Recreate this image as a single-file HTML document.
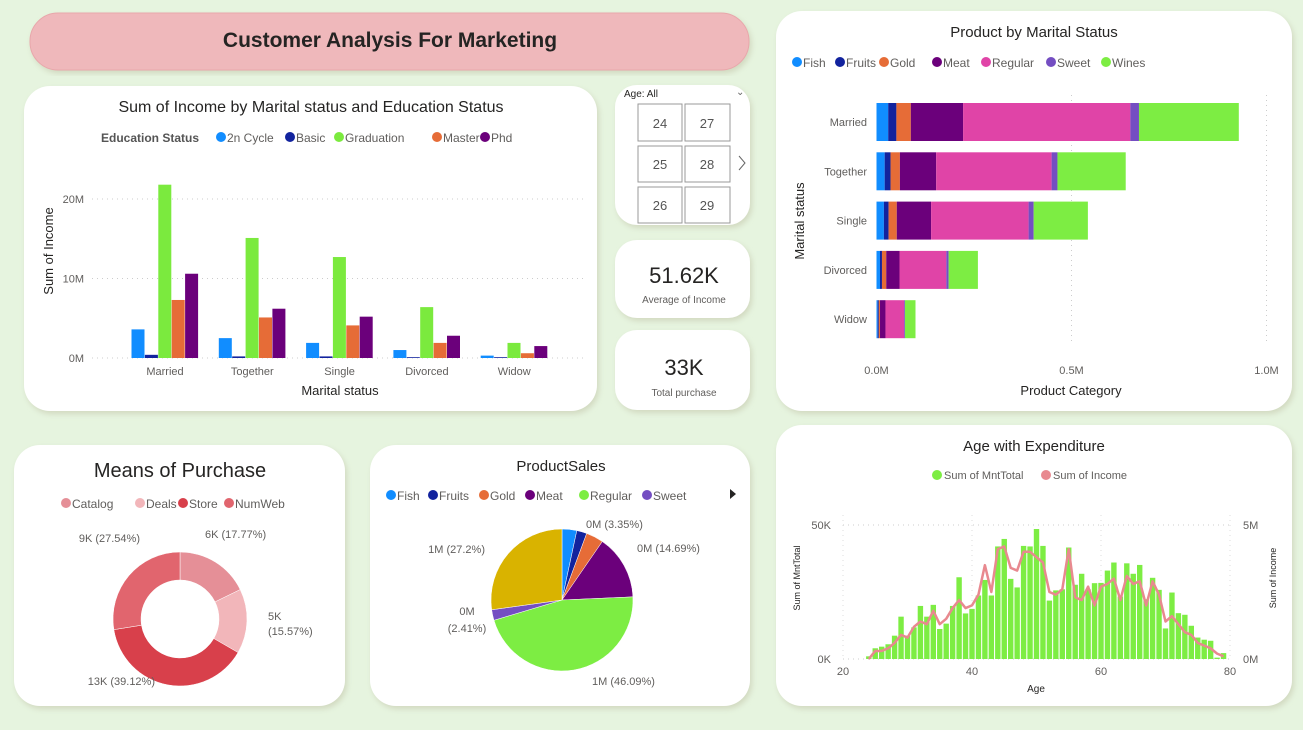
<!DOCTYPE html>
<html><head><meta charset="utf-8">
<style>
html,body{margin:0;padding:0;background:#e6f4df;}
svg{display:block;font-family:"Liberation Sans",sans-serif;}
.t{fill:#252423;}
.ax{fill:#605e5c;font-size:11px;}
</style></head>
<body>
<svg id="s" width="1303" height="730" viewBox="0 0 1303 730">
<defs><filter id="sh" x="-5%" y="-5%" width="110%" height="115%"><feDropShadow dx="2" dy="3" stdDeviation="3" flood-color="#b8b89a" flood-opacity="0.45"/></filter></defs>
<rect width="1303" height="730" fill="#e6f4df"/>
<rect x="30" y="13" width="719" height="57" rx="28" fill="#efb8bb" stroke="#e8a7ab" filter="url(#sh)"/>
<text x="390" y="47" text-anchor="middle" font-size="21" font-weight="bold" class="t">Customer Analysis For Marketing</text>
<rect x="24" y="86" width="573" height="325" rx="26" fill="#fff" filter="url(#sh)"/>
<rect x="615" y="85" width="135" height="140" rx="22" fill="#fff" filter="url(#sh)"/>
<rect x="615" y="240" width="135" height="78" rx="22" fill="#fff" filter="url(#sh)"/>
<rect x="615" y="330" width="135" height="80" rx="22" fill="#fff" filter="url(#sh)"/>
<rect x="776" y="11" width="516" height="400" rx="26" fill="#fff" filter="url(#sh)"/>
<rect x="14" y="445" width="331" height="261" rx="26" fill="#fff" filter="url(#sh)"/>
<rect x="370" y="445" width="380" height="261" rx="26" fill="#fff" filter="url(#sh)"/>
<rect x="776" y="425" width="516" height="281" rx="26" fill="#fff" filter="url(#sh)"/>

<text x="624" y="97" font-size="10" class="t">Age: All</text>
<text x="736" y="95" font-size="10" fill="#666">⌄</text>
<g font-size="13" fill="#555" text-anchor="middle">
<rect x="638" y="104" width="44" height="37" fill="#fff" stroke="#999"/><text x="660" y="128">24</text>
<rect x="685" y="104" width="45" height="37" fill="#fff" stroke="#999"/><text x="707" y="128">27</text>
<rect x="638" y="146" width="44" height="36" fill="#fff" stroke="#999"/><text x="660" y="169">25</text>
<rect x="685" y="146" width="45" height="36" fill="#fff" stroke="#999"/><text x="707" y="169">28</text>
<rect x="638" y="187" width="44" height="36" fill="#fff" stroke="#999"/><text x="660" y="210">26</text>
<rect x="685" y="187" width="45" height="36" fill="#fff" stroke="#999"/><text x="707" y="210">29</text>
</g>
<path d="M739 156 L745 163 L739 170" fill="none" stroke="#666"/>
<text x="684" y="283" text-anchor="middle" font-size="22" class="t">51.62K</text>
<text x="684" y="303" text-anchor="middle" font-size="10" fill="#605e5c">Average of Income</text>
<text x="684" y="375" text-anchor="middle" font-size="22" class="t">33K</text>
<text x="684" y="396" text-anchor="middle" font-size="10" fill="#605e5c">Total purchase</text>

<text x="311" y="112" text-anchor="middle" font-size="16" class="t">Sum of Income by Marital status and Education Status</text>
<text x="101" y="142" font-size="12" font-weight="bold" fill="#555">Education Status</text>
<g id="incLegend"></g>
<g id="incGrid"></g>
<text transform="translate(53,251) rotate(-90)" text-anchor="middle" font-size="13" class="t">Sum of Income</text>
<text x="340" y="395" text-anchor="middle" font-size="13" class="t">Marital status</text>
<g id="incBars"></g>

<text x="1034" y="37" text-anchor="middle" font-size="15" class="t">Product by Marital Status</text>
<g id="pmLegend"></g>
<g id="pmGrid"></g>
<text transform="translate(804,221) rotate(-90)" text-anchor="middle" font-size="13" class="t">Marital status</text>
<text x="1071" y="395" text-anchor="middle" font-size="13" class="t">Product Category</text>
<g id="pmBars"></g>

<text x="180" y="477" text-anchor="middle" font-size="20" class="t">Means of Purchase</text>
<g id="mpLegend"></g>
<g id="mpDonut"></g>

<text x="561" y="471" text-anchor="middle" font-size="15" class="t">ProductSales</text>
<g id="psLegend"></g>
<path d="M730 489 L736 494 L730 499Z" fill="#252423"/>
<g id="psPie"></g>

<text x="1034" y="451" text-anchor="middle" font-size="15" class="t">Age with Expenditure</text>
<g id="agLegend"></g>
<g id="agGrid"></g>
<text transform="translate(800,578) rotate(-90)" text-anchor="middle" font-size="9" class="t">Sum of MntTotal</text>
<text transform="translate(1276,578) rotate(-90)" text-anchor="middle" font-size="9" class="t">Sum of Income</text>
<text x="1036" y="692" text-anchor="middle" font-size="10" class="t">Age</text>
<g id="agBars"></g>
</svg>
<script>
const incCategories = ["Married","Together","Single","Divorced","Widow"];
const incSeries = ["2n Cycle","Basic","Graduation","Master","Phd"];
const inc2nCycle = [3.6,2.5,1.9,1.0,0.3];
const incBasic = [0.4,0.2,0.2,0.1,0.1];
const incGraduation = [21.8,15.1,12.7,6.4,1.9];
const incMaster = [7.3,5.1,4.1,1.9,0.6];
const incPhd = [10.6,6.2,5.2,2.8,1.5];
const incTicks = [0,10,20];
const pmCategories = ["Married","Together","Single","Divorced","Widow"];
const pmSeries = ["Fish","Fruits","Gold","Meat","Regular","Sweet","Wines"];
const pmFish = [0.030,0.021,0.019,0.009,0.003];
const pmFruits = [0.021,0.015,0.012,0.005,0.003];
const pmGold = [0.037,0.024,0.021,0.011,0.003];
const pmMeat = [0.134,0.093,0.088,0.034,0.014];
const pmRegular = [0.429,0.296,0.250,0.120,0.048];
const pmSweet = [0.022,0.015,0.013,0.006,0.002];
const pmWines = [0.256,0.175,0.139,0.075,0.027];
const pmTicks = [0,0.5,1];
const pmTickLabels = ["0.0M","0.5M","1.0M"];
const mpCategories = ["Catalog","Deals","Store","NumWeb"];
const mpShares = [17.77,15.57,39.12,27.54];
const mpLabels = ["6K (17.77%)","5K|(15.57%)","13K (39.12%)","9K (27.54%)"];
const psCategories = ["Fish","Fruits","Gold","Meat","Regular","Sweet","Wines"];
const psShares = [3.35,2.3,3.96,14.69,46.09,2.41,27.2];
const agAges = [24,25,26,27,28,29,30,31,32,33,34,35,36,37,38,39,40,41,42,43,44,45,46,47,48,49,50,51,52,53,54,55,56,57,58,59,60,61,62,63,64,65,66,67,68,69,70,71,72,73,74,75,76,77,78,79];
const agMntTotal = [1,4,4.6,5.5,8.7,15.8,8.7,11.8,19.8,15.8,20.2,11.2,13.2,19.8,30.5,17,18.7,23.7,29.5,23.7,42,44.8,29.9,26.7,42.2,42,48.5,42.2,21.8,25.6,26,41.6,27.7,31.8,26,28.3,28.4,33,36,23.3,35.7,31.8,35.1,22.3,30.3,25.8,11.4,24.8,17.1,16.5,12.4,8,7.2,6.8,0.5,2.2];
const agIncome = [0,0.3,0.3,0.4,0.6,0.9,0.8,1.2,1.4,1.3,1.8,1.3,1.5,1.9,2.2,1.9,2.0,2.4,3.5,2.5,4.1,4.2,3.4,3.3,4.0,4.0,3.8,3.6,2.5,2.4,2.6,4.1,2.3,2.2,2.7,2.0,2.7,2.8,3.0,2.2,3.1,2.8,2.9,2.0,2.9,2.4,1.4,1.6,1.3,1.0,0.9,0.6,0.5,0.4,0.2,0.1];
const agXTicks = [20,40,60,80];

const NS="http://www.w3.org/2000/svg";
function mk(parent,tag,attrs,txt){const e=document.createElementNS(NS,tag);for(const k in attrs)e.setAttribute(k,attrs[k]);if(txt!==undefined)e.textContent=txt;document.getElementById(parent).appendChild(e);return e;}
const eduColors=["#118dff","#12239e","#7bea3e","#e66c37","#6b007b"];
const pmColors=["#118dff","#12239e","#e66c37","#6b007b","#e044a7","#744ec2","#7ded43"];

let lx=[221,290,339,437,485];
incSeries.forEach((s,i)=>{
 let c=mk("incLegend","circle",{cx:lx[i],cy:137,r:5,fill:eduColors[i]});
 
 
 let t=mk("incLegend","text",{x:lx[i]+6,y:142,"font-size":12,fill:"#605e5c"},s);
 
 
});
const incY=v=>358-v*7.95;
incTicks.forEach(v=>{
 let l=mk("incGrid","line",{x1:92,x2:583,y1:incY(v),y2:incY(v),stroke:"#ccc","stroke-dasharray":"1 4"});
 
 
 let t=mk("incGrid","text",{x:84,y:incY(v)+4,"text-anchor":"end",class:"ax"},v+"M");
 
 
});
const incVals=[inc2nCycle,incBasic,incGraduation,incMaster,incPhd];
incCategories.forEach((c,gi)=>{
 const cx=165+gi*87.3;
 let t=mk("incBars","text",{x:cx,y:375,"text-anchor":"middle",class:"ax"},c);
 
 
 incVals.forEach((arr,si)=>{
  const v=arr[gi];
  let r=mk("incBars","rect",{x:cx-33.5+si*13.4,y:incY(v),width:13,height:358-incY(v),fill:eduColors[si]});
  
  
 });
});

let px=[797,840,884,937,986,1051,1106];
pmSeries.forEach((s,i)=>{
 let c=mk("pmLegend","circle",{cx:px[i],cy:62,r:5,fill:pmColors[i]});
 
 
 let t=mk("pmLegend","text",{x:px[i]+6,y:67,"font-size":12,fill:"#605e5c"},s);
 
 
});
const pmX=v=>876.5+v*390;
pmTicks.forEach((v,i)=>{
 if(v>0){let l=mk("pmGrid","line",{x1:pmX(v),x2:pmX(v),y1:95,y2:345,stroke:"#ccc","stroke-dasharray":"1 4"});
 
 }
 let t=mk("pmGrid","text",{x:pmX(v),y:374,"text-anchor":"middle",class:"ax"},pmTickLabels[i]);
 
 
});
const pmVals=[pmFish,pmFruits,pmGold,pmMeat,pmRegular,pmSweet,pmWines];
pmCategories.forEach((c,ri)=>{
 const cy=122+ri*49.3;
 let t=mk("pmBars","text",{x:867,y:cy+4,"text-anchor":"end",class:"ax"},c);
 
 
 let acc=0;
 pmVals.forEach((arr,si)=>{
  const v=arr[ri];
  let r=mk("pmBars","rect",{x:pmX(acc),y:cy-19,width:v*390,height:38,fill:pmColors[si]});
  
  
  acc+=v;
 });
});

const mpColors=["#e58f97","#f2b6ba","#d8404b","#e1656e"];
let mx=[66,140,183,229];
mpCategories.forEach((s,i)=>{
 let c=mk("mpLegend","circle",{cx:mx[i],cy:503,r:5,fill:mpColors[i]});
 
 
 let t=mk("mpLegend","text",{x:mx[i]+6,y:508,"font-size":12,fill:"#605e5c"},s);
 
 
});
function arcPath(cx,cy,R,r,a0,a1){
 const p=(a,rad)=>[cx+rad*Math.sin(a),cy-rad*Math.cos(a)];
 const lg=(a1-a0)>Math.PI?1:0;
 const [x0,y0]=p(a0,R),[x1,y1]=p(a1,R);
 if(r>0){const [x2,y2]=p(a1,r),[x3,y3]=p(a0,r);
 return `M${x0} ${y0}A${R} ${R} 0 ${lg} 1 ${x1} ${y1}L${x2} ${y2}A${r} ${r} 0 ${lg} 0 ${x3} ${y3}Z`;}
 return `M${cx} ${cy}L${x0} ${y0}A${R} ${R} 0 ${lg} 1 ${x1} ${y1}Z`;
}
let tot=mpShares.reduce((a,b)=>a+b,0),a=0;
const mpLabPos=[[205,538,"start"],[268,620,"start"],[155,685,"end"],[140,542,"end"]];
mpShares.forEach((v,i)=>{
 const a1=a+v/tot*2*Math.PI;
 let p=mk("mpDonut","path",{d:arcPath(180,619,67,39,a,a1),fill:mpColors[i],stroke:"#fff","stroke-width":0.5});
 
 
 const lab=mpLabels[i].split("|");
 lab.forEach((ln,k)=>{
  let t=mk("mpDonut","text",{x:mpLabPos[i][0],y:mpLabPos[i][1]+k*15,"text-anchor":mpLabPos[i][2],"font-size":11,fill:"#605e5c"},ln);
  
  
 });
 a=a1;
});

const psColors=["#118dff","#12239e","#e66c37","#6b007b","#7ded43","#744ec2","#d9b300"];
let sx=[391,433,484,530,584,647];
psCategories.slice(0,6).forEach((s,i)=>{
 let c=mk("psLegend","circle",{cx:sx[i],cy:495,r:5,fill:psColors[i]});
 
 
 let t=mk("psLegend","text",{x:sx[i]+6,y:500,"font-size":12,fill:"#605e5c"},s);
 
 
});
tot=psShares.reduce((a,b)=>a+b,0);a=0;
psShares.forEach((v,i)=>{
 const a1=a+v/tot*2*Math.PI;
 let p=mk("psPie","path",{d:arcPath(562,600,71,0,a,a1),fill:psColors[i],stroke:"#fff","stroke-width":0.5});
 
 
 a=a1;
});
const psLabs=[["0M (3.35%)",586,528,"start"],["0M (14.69%)",637,552,"start"],["1M (46.09%)",592,685,"start"],["0M",467,615,"middle"],["(2.41%)",467,632,"middle"],["1M (27.2%)",485,553,"end"]];
psLabs.forEach(l=>{
 let t=mk("psPie","text",{x:l[1],y:l[2],"text-anchor":l[3],"font-size":11,fill:"#605e5c"},l[0]);
 
 
});

let c1=mk("agLegend","circle",{cx:937,cy:475,r:5,fill:"#7ded43"});


let t1=mk("agLegend","text",{x:944,y:479,"font-size":11,fill:"#605e5c"},"Sum of MntTotal");


let c2=mk("agLegend","circle",{cx:1046,cy:475,r:5,fill:"#e8898f"});


let t2=mk("agLegend","text",{x:1053,y:479,"font-size":11,fill:"#605e5c"},"Sum of Income");


const agX=v=>843+(v-20)*6.45;
const agY=v=>659-v*2.68;
const agY2=v=>659-v*26.8;
[[0,"0K","0M"],[50,"50K","5M"]].forEach(g=>{
 let l=mk("agGrid","line",{x1:843,x2:1230,y1:agY(g[0]),y2:agY(g[0]),stroke:"#ccc","stroke-dasharray":"1 4"});
 
 
 let t=mk("agGrid","text",{x:831,y:agY(g[0])+4,"text-anchor":"end",class:"ax"},g[1]);
 
 
 let t3=mk("agGrid","text",{x:1243,y:agY(g[0])+4,class:"ax"},g[2]);
 
 
});
agXTicks.forEach(v=>{
 let l=mk("agGrid","line",{x1:agX(v),x2:agX(v),y1:515,y2:659,stroke:"#ddd","stroke-dasharray":"1 4"});
 
 
 let t=mk("agGrid","text",{x:agX(v),y:675,"text-anchor":"middle",class:"ax"},v);
 
 
});
agAges.forEach((age,i)=>{
 let r=mk("agBars","rect",{x:agX(age)-2.7,y:agY(agMntTotal[i]),width:5.4,height:659-agY(agMntTotal[i]),fill:"#7ded43"});
 
 
});
let pts=agAges.map((age,i)=>agX(age)+","+agY2(agIncome[i])).join(" ");
let pl=mk("agBars","polyline",{points:pts,fill:"none",stroke:"#e8898f","stroke-width":2.5,"stroke-linejoin":"round"});


</script>
</body></html>
